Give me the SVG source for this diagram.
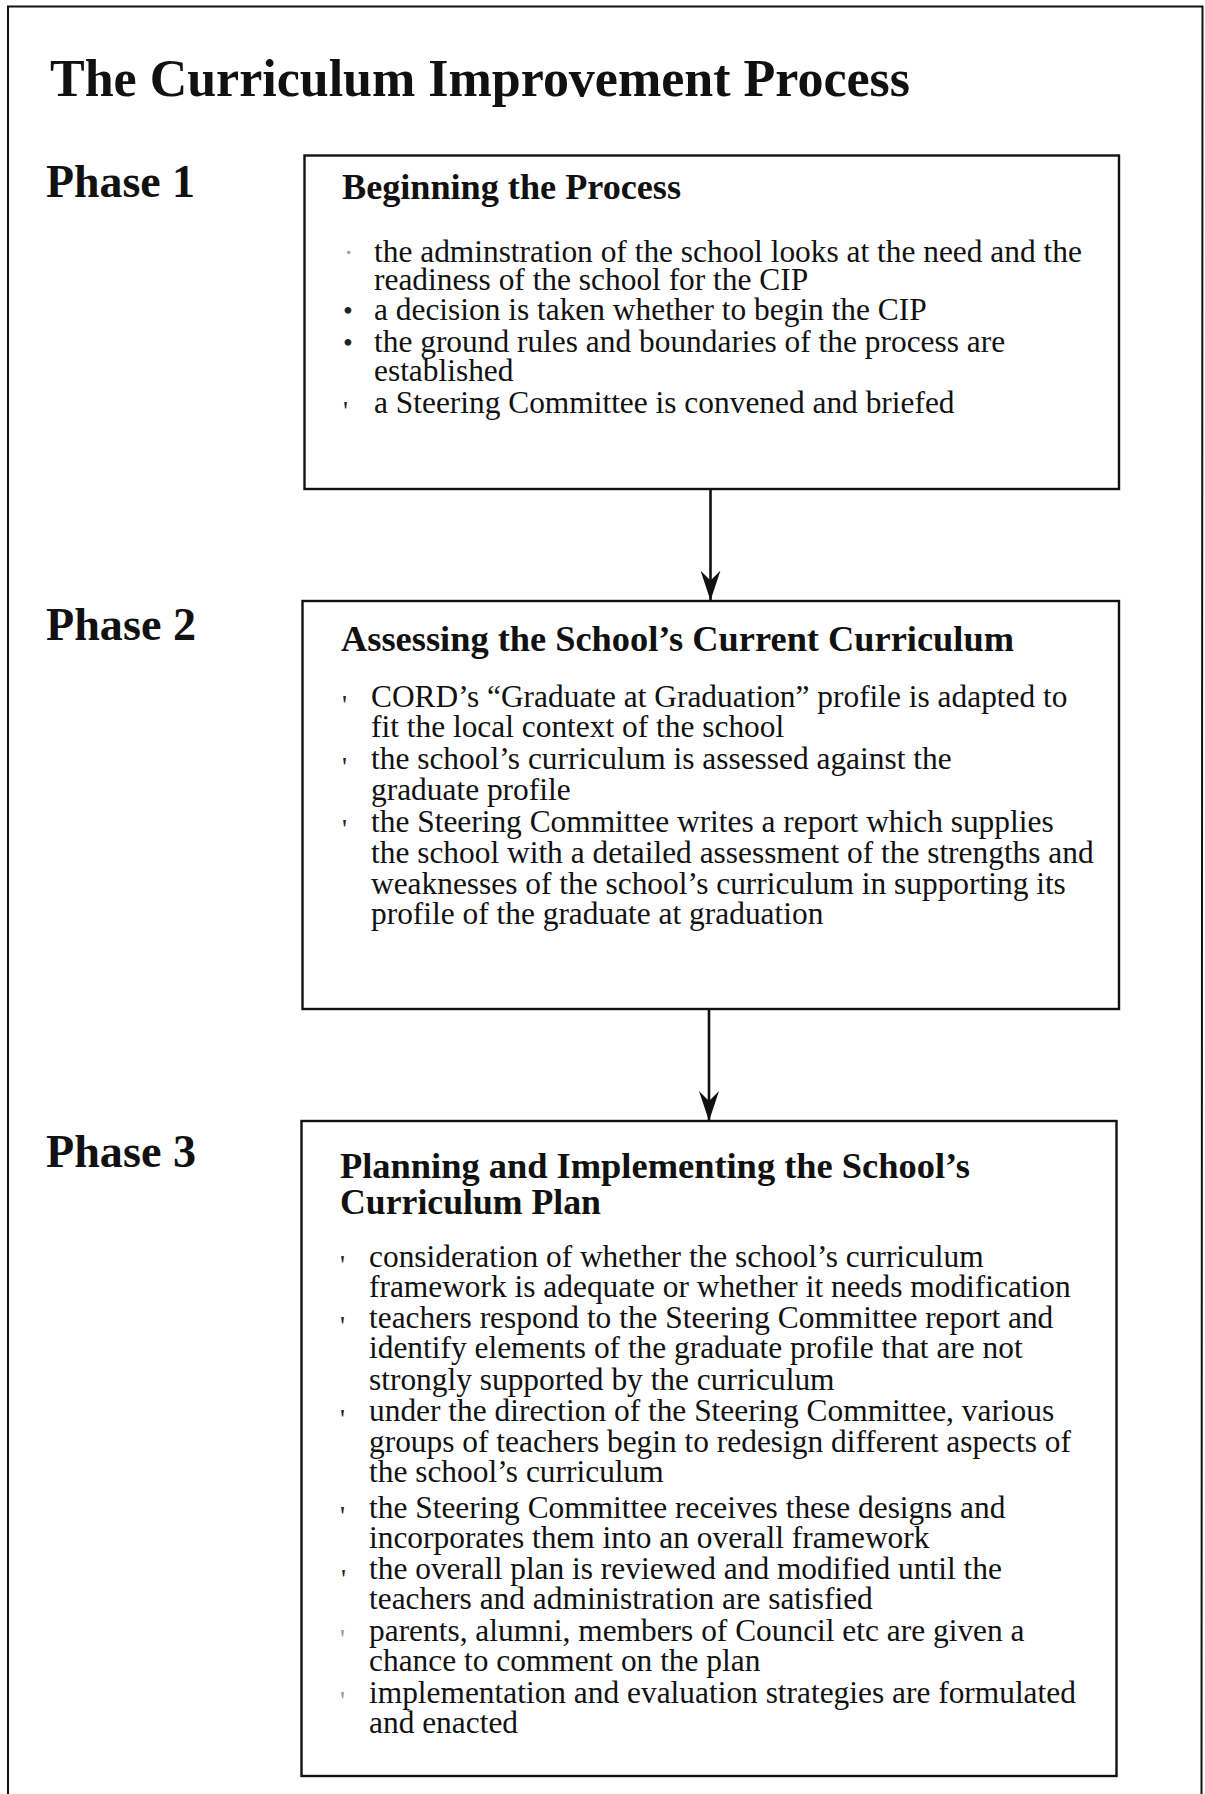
<svg xmlns="http://www.w3.org/2000/svg" width="1205" height="1794" viewBox="0 0 1205 1794">
  <style>
    .frame { fill: none; stroke: #111; stroke-width: 2; }
    .box { fill: #fff; stroke: #111; stroke-width: 2.4; }
    .conn { fill: none; stroke: #111; stroke-width: 2.6; }
    .title { font-family: "Liberation Serif", "Times New Roman", serif; font-weight: bold; font-size: 52px; fill: #111; }
    .phase { font-family: "Liberation Serif", "Times New Roman", serif; font-weight: bold; font-size: 46px; fill: #111; }
    .head { font-family: "Liberation Serif", "Times New Roman", serif; font-weight: bold; font-size: 36px; fill: #111; }
    .body { font-family: "Liberation Serif", "Times New Roman", serif; font-size: 31.4px; fill: #111; }
    .mark { font-family: "Liberation Serif", "Times New Roman", serif; font-size: 28px; fill: #222; }
    .faint { fill: #999; }
  </style>
  <defs>
    <marker id="arrow" markerUnits="userSpaceOnUse" markerWidth="30" markerHeight="20" refX="30" refY="10" orient="auto">
      <path d="M0,0 L30,10 L0,20 L10,10 Z" fill="#111"/>
    </marker>
  </defs>

  <rect width="1205" height="1794" fill="#fff"/>

  <!-- page frame (open at the bottom edge) -->
  <path class="frame" d="M8,1800 L8,6.5 L1202.5,6.5 L1201.5,1800"/>

  <text class="title" x="50" y="96" textLength="860" lengthAdjust="spacingAndGlyphs">The Curriculum Improvement Process</text>

  <g id="phase-labels">
    <text class="phase" x="46" y="197" textLength="149" lengthAdjust="spacingAndGlyphs">Phase 1</text>
    <text class="phase" x="46" y="640" textLength="150" lengthAdjust="spacingAndGlyphs">Phase 2</text>
    <text class="phase" x="46" y="1167" textLength="150" lengthAdjust="spacingAndGlyphs">Phase 3</text>
  </g>

  <g id="connectors">
    <line class="conn" x1="710.5" y1="489" x2="710.5" y2="600.5" marker-end="url(#arrow)"/>
    <line class="conn" x1="709" y1="1009" x2="709" y2="1121" marker-end="url(#arrow)"/>
  </g>

  <!-- Phase 1 -->
  <g id="phase1">
    <rect class="box" x="304.5" y="155.5" width="814.5" height="333.5"/>
    <text class="head" x="342" y="199" textLength="339" lengthAdjust="spacingAndGlyphs">Beginning the Process</text>
    <text class="mark faint" x="344" y="262">·</text>
    <text class="mark" x="343" y="320">•</text>
    <text class="mark" x="343" y="352">•</text>
    <text class="mark" x="343" y="420">'</text>
    <g class="body">
      <text x="374" y="262">the adminstration of the school looks at the need and the</text>
      <text x="374" y="290">readiness of the school for the CIP</text>
      <text x="374" y="320">a decision is taken whether to begin the CIP</text>
      <text x="374" y="352">the ground rules and boundaries of the process are</text>
      <text x="374" y="381">established</text>
      <text x="374" y="413">a Steering Committee is convened and briefed</text>
    </g>
  </g>

  <!-- Phase 2 -->
  <g id="phase2">
    <rect class="box" x="302.5" y="601" width="816.5" height="408"/>
    <text class="head" x="341" y="651" textLength="673" lengthAdjust="spacingAndGlyphs">Assessing the School’s Current Curriculum</text>
    <text class="mark" x="342" y="714">'</text>
    <text class="mark" x="342" y="776">'</text>
    <text class="mark" x="342" y="838">'</text>
    <g class="body">
      <text x="371" y="707">CORD’s “Graduate at Graduation” profile is adapted to</text>
      <text x="371" y="737">fit the local context of the school</text>
      <text x="371" y="769">the school’s curriculum is assessed against the</text>
      <text x="371" y="800">graduate profile</text>
      <text x="371" y="832">the Steering Committee writes a report which supplies</text>
      <text x="371" y="863">the school with a detailed assessment of the strengths and</text>
      <text x="371" y="894">weaknesses of the school’s curriculum in supporting its</text>
      <text x="371" y="924">profile of the graduate at graduation</text>
    </g>
  </g>

  <!-- Phase 3 -->
  <g id="phase3">
    <rect class="box" x="301.5" y="1121" width="815" height="655"/>
    <text class="head" x="340" y="1178" textLength="630" lengthAdjust="spacingAndGlyphs">Planning and Implementing the School’s</text>
    <text class="head" x="340" y="1214" textLength="261" lengthAdjust="spacingAndGlyphs">Curriculum Plan</text>
    <text class="mark" x="340" y="1274">'</text>
    <text class="mark" x="340" y="1335">'</text>
    <text class="mark" x="340" y="1428">'</text>
    <text class="mark" x="340" y="1525">'</text>
    <text class="mark" x="341" y="1588">'</text>
    <text class="mark faint" x="340" y="1648">'</text>
    <text class="mark faint" x="340" y="1710">'</text>
    <g class="body">
      <text x="369" y="1267">consideration of whether the school’s curriculum</text>
      <text x="369" y="1297">framework is adequate or whether it needs modification</text>
      <text x="369" y="1328">teachers respond to the Steering Committee report and</text>
      <text x="369" y="1358">identify elements of the graduate profile that are not</text>
      <text x="369" y="1390">strongly supported by the curriculum</text>
      <text x="369" y="1421">under the direction of the Steering Committee, various</text>
      <text x="369" y="1452">groups of teachers begin to redesign different aspects of</text>
      <text x="369" y="1482">the school’s curriculum</text>
      <text x="369" y="1518">the Steering Committee receives these designs and</text>
      <text x="369" y="1548">incorporates them into an overall framework</text>
      <text x="369" y="1579">the overall plan is reviewed and modified until the</text>
      <text x="369" y="1609">teachers and administration are satisfied</text>
      <text x="369" y="1641">parents, alumni, members of Council etc are given a</text>
      <text x="369" y="1671">chance to comment on the plan</text>
      <text x="369" y="1703">implementation and evaluation strategies are formulated</text>
      <text x="369" y="1733">and enacted</text>
    </g>
  </g>
</svg>
